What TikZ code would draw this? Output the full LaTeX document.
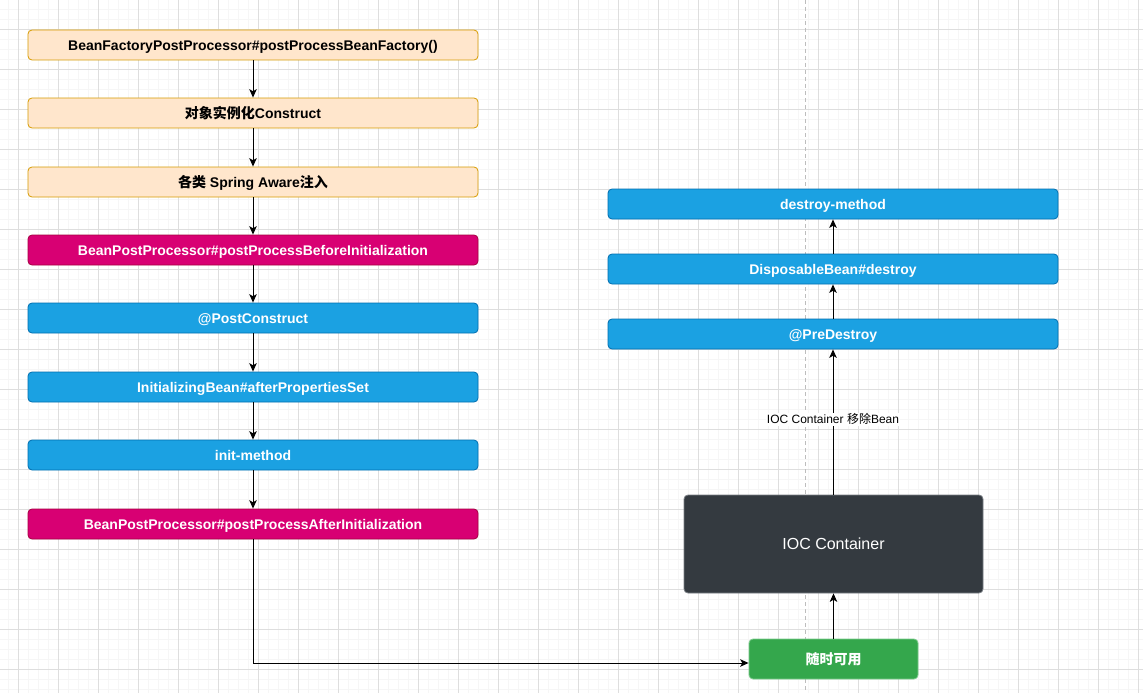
\documentclass[tikz,border=0pt]{standalone}
\usepackage{fontspec}
\setmainfont{Liberation Sans}
\newfontfamily\cjk{Noto Sans CJK SC}
\usetikzlibrary{arrows.meta}
\definecolor{gridminor}{HTML}{F6F6F6}
\definecolor{gridmajor}{HTML}{DEDEDE}
\definecolor{orfill}{HTML}{FFE6CC}
\definecolor{ordraw}{HTML}{D79B00}
\definecolor{pkfill}{HTML}{D80073}
\definecolor{pkdraw}{HTML}{A50040}
\definecolor{blfill}{HTML}{1BA1E2}
\definecolor{bldraw}{HTML}{006EAF}
\definecolor{dkfill}{HTML}{343A40}
\definecolor{dkdraw}{HTML}{7A7F85}
\definecolor{grfill}{HTML}{34A74C}
\definecolor{grdraw}{HTML}{7CCB8C}
\definecolor{pagebreak}{HTML}{BDBDBD}
\tikzset{
  box/.style={rounded corners=4pt, minimum width=450pt, minimum height=30pt, line width=0.8pt, inner sep=0pt, text height=12pt, text depth=1pt, font=\fontsize{14}{16}\selectfont\bfseries},
  orbox/.style={box, fill=orfill, draw=ordraw, text=black},
  pkbox/.style={box, fill=pkfill, draw=pkdraw, text=white},
  blbox/.style={box, fill=blfill, draw=bldraw, text=white},
  conn/.style={line width=1pt, -{Stealth[length=8.5pt,width=7.5pt,inset=2.2pt]}},
}
\begin{document}
\begin{tikzpicture}[x=1pt,y=-1pt]
\useasboundingbox (0,0) rectangle (1143,693);
\fill[white] (0,0) rectangle (1143,693);
% grid
\foreach \gx in {8,18,...,1138} \draw[gridminor, line width=0.7pt] (\gx,0) -- (\gx,693);
\foreach \gy in {9,19,...,689} \draw[gridminor, line width=0.7pt] (0,\gy) -- (1143,\gy);
\foreach \gx in {18,58,...,1138} \draw[gridmajor, line width=0.8pt] (\gx,0) -- (\gx,693);
\foreach \gy in {29,69,...,669} \draw[gridmajor, line width=0.8pt] (0,\gy) -- (1143,\gy);
% page break line
\coordinate (pbtop) at (805,0);
\coordinate (pbbot) at (805,693);
\draw[pagebreak, line width=0.8pt, dash pattern=on 4pt off 3pt] (pbtop) -- (pbbot);

% left column
\node[orbox] (n1) at (253,45) {BeanFactoryPostProcessor\#postProcessBeanFactory()};
\node[orbox] (n2) at (253,113) {{\cjk 对象实例化}Construct};
\node[orbox] (n3) at (253,182) {{\cjk 各类} Spring Aware{\cjk 注入}};
\node[pkbox] (n4) at (253,250) {BeanPostProcessor\#postProcessBeforeInitialization};
\node[blbox] (n5) at (253,318) {@PostConstruct};
\node[blbox] (n6) at (253,387) {InitializingBean\#afterPropertiesSet};
\node[blbox] (n7) at (253,455) {init-method};
\node[pkbox] (n8) at (253,524) {BeanPostProcessor\#postProcessAfterInitialization};

% right column
\node[blbox] (d3) at (833,204) {destroy-method};
\node[blbox] (d2) at (833,269) {DisposableBean\#destroy};
\node[blbox] (d1) at (833,334) {@PreDestroy};

\node[rounded corners=4pt, fill=dkfill, draw=dkdraw, line width=0.8pt, minimum width=299pt, minimum height=98pt, inner sep=0pt, text=white, font=\fontsize{16}{18}\selectfont] (ioc) at (833.5,544) {IOC Container};
\node[rounded corners=4pt, fill=grfill, draw=grdraw, line width=0.8pt, minimum width=169pt, minimum height=40pt, inner sep=0pt, text height=12pt, text depth=1pt, text=white, font=\fontsize{14}{16}\selectfont\cjk\bfseries] (avail) at (833.5,659) {随时可用};

% connectors
\foreach \a/\b in {n1/n2,n2/n3,n3/n4,n4/n5,n5/n6,n6/n7,n7/n8}
  \draw[conn] (\a.south) -- (\b.north);
\draw[conn] (n8.south) |- ([yshift=-4pt]avail.west);
\draw[conn] (avail.north -| ioc.south) -- (ioc.south);
\draw[conn] (ioc.north -| d1.south) -- node[fill=white, inner sep=1pt, text=black, font=\fontsize{12}{14}\selectfont, pos=0.52] (lbl) {IOC Container {\cjk 移除}Bean} (d1.south);
\draw[conn] (d1.north) -- (d2.south);
\draw[conn] (d2.north) -- (d3.south);
\end{tikzpicture}
\end{document}
